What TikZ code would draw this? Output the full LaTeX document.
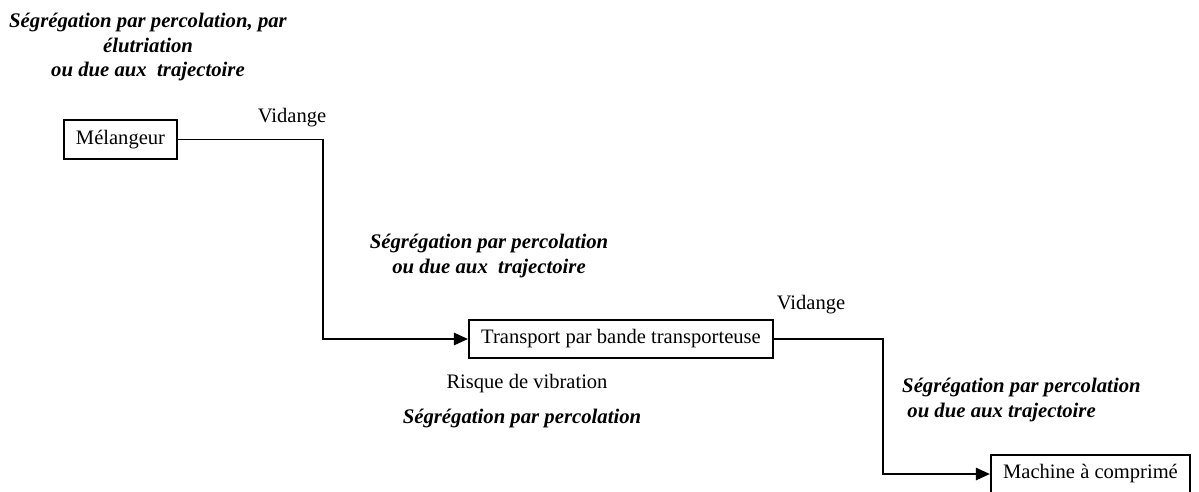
\documentclass[tikz,border=0pt]{standalone}
\usepackage{fontspec}
\setmainfont{Liberation Serif}
\usetikzlibrary{arrows.meta}
\tikzset{box node/.style={draw,line width=1.1pt,inner xsep=7pt,minimum height=0.77cm,font=\fontsize{11.7}{14}\selectfont},
            plain node/.style={font=\fontsize{11.7}{14}\selectfont},
            seg node/.style={font=\fontsize{11.8}{14.2}\selectfont\bfseries\itshape,align=center},
            flow/.style={line width=1.1pt,-{Triangle[length=8pt,width=7pt]}},
            }

\begin{document}
\begin{tikzpicture}[x=0.02cm,y=-0.02cm]
    \useasboundingbox (0,0) rectangle (1199,491);

    \node[box node] (mel) at (120.5,139.5) {Mélangeur};
    \node[box node] (trans) at (621,339) {Transport par bande transporteuse};
    \node[box node] (mach) at (1090.5,474) {Machine à comprimé};

    \draw[flow] (mel.east) -- ++(145,0) |- (trans.west);
    \draw[flow] (trans.east) -- ++(109,0) |- (mach.west);

    \node[seg node] (seg1) at (148,47) {Ségrégation par percolation, par\\élutriation\\ou due aux\ \ trajectoire};
    \node[plain node] (vid1) at (292,118) {Vidange};
    \node[seg node] (seg2) at (489,256) {Ségrégation par percolation\\ou due aux\ \ trajectoire};
    \node[plain node] (vid2) at (811,305) {Vidange};
    \node[seg node,align=left,anchor=west] (seg3) at (896,400) {Ségrégation par percolation\\\ ou due aux trajectoire};
    \node[plain node] (risque) at (527,384) {Risque de vibration};
    \node[seg node] (seg4) at (522,418) {Ségrégation par percolation};
\end{tikzpicture}
\end{document}
